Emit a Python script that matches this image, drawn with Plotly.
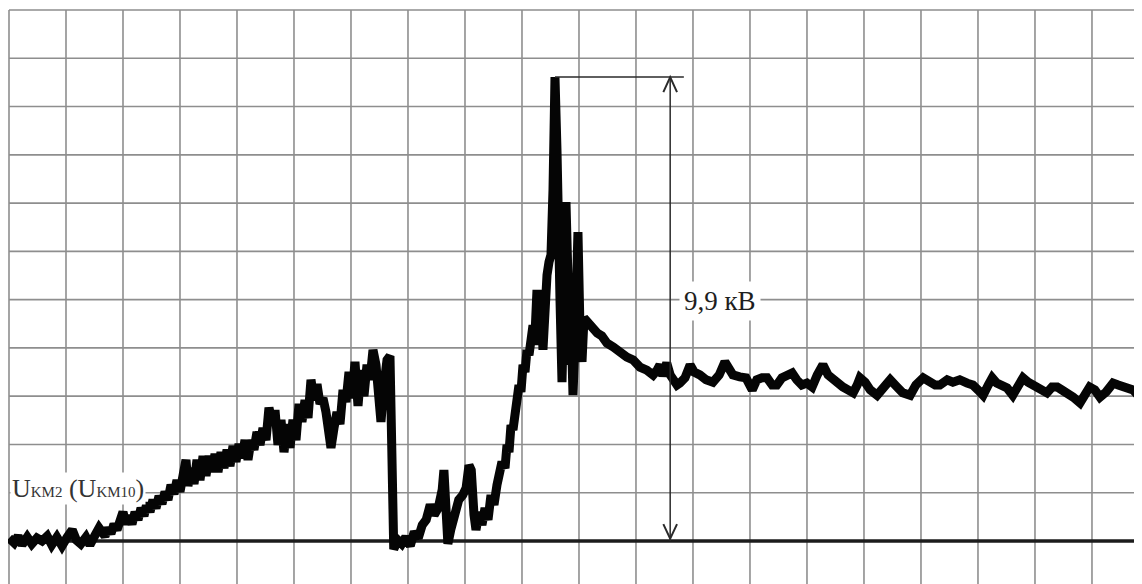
import plotly.graph_objects as go

# ---- data (time and voltage in grid divisions) ----
t = [0.00, 0.09, 0.16, 0.23, 0.32, 0.40, 0.49, 0.58, 0.67, 0.75, 0.84, 0.93, 1.02, 1.11, 1.18, 1.26,
     1.35, 1.42, 1.51, 1.58,
     1.684, 1.737, 1.789, 1.842, 1.895, 1.947, 2.000, 2.053, 2.105, 2.158, 2.211, 2.263, 2.316, 2.368,
     2.421, 2.474, 2.526, 2.579, 2.632, 2.684, 2.737, 2.789, 2.842, 2.895, 2.947, 3.000, 3.053, 3.105,
     3.140, 3.193, 3.246, 3.298, 3.351, 3.404, 3.456, 3.509, 3.561, 3.614, 3.667, 3.719, 3.772, 3.825,
     3.877, 3.930, 3.982, 4.035, 4.088, 4.140, 4.193, 4.246, 4.298, 4.351, 4.404, 4.456, 4.509, 4.561,
     4.614, 4.667, 4.719, 4.772, 4.825, 4.877, 4.930, 4.982, 5.035, 5.088, 5.140, 5.193, 5.246, 5.298,
     5.351, 5.404, 5.456, 5.509, 5.561, 5.614, 5.649, 5.702, 5.754, 5.807, 5.860, 5.912, 5.965, 6.018,
     6.070, 6.123, 6.175, 6.228, 6.281, 6.333, 6.386, 6.439, 6.491, 6.526, 6.579, 6.632, 6.684, 6.719,
     6.75,
     6.82, 6.89, 6.96, 7.04, 7.11, 7.18, 7.25, 7.32, 7.39, 7.46, 7.53, 7.60, 7.63, 7.67, 7.70, 7.75,
     7.82, 7.89, 7.96, 8.02, 8.07, 8.11,
     8.158, 8.193, 8.246, 8.298, 8.351, 8.404, 8.456, 8.509, 8.561, 8.614, 8.649, 8.702, 8.737, 8.772,
     8.807, 8.842, 8.877, 8.912, 8.947, 8.982, 9.018, 9.053, 9.088, 9.123, 9.158,
     9.193, 9.228, 9.263, 9.298, 9.333, 9.368, 9.404, 9.439, 9.474, 9.509, 9.544, 9.579, 9.614, 9.632,
     9.667, 9.702, 9.737, 9.772, 9.807, 9.825, 9.860, 9.895, 9.930, 9.965, 9.982, 10.018, 10.053,
     10.088, 10.140,
     10.23, 10.32, 10.40, 10.49, 10.60, 10.72, 10.84, 10.95, 11.07, 11.19, 11.30, 11.37,
     11.42, 11.47, 11.54, 11.60, 11.65, 11.72, 11.77, 11.86, 11.95, 12.02, 12.12, 12.23, 12.35, 12.46,
     12.56, 12.63, 12.70, 12.82, 12.93, 13.04, 13.12, 13.21, 13.30, 13.39, 13.47, 13.56, 13.65, 13.74,
     13.82, 13.91, 14.00, 14.09, 14.18, 14.28, 14.37, 14.46, 14.54, 14.63, 14.72, 14.81, 14.88, 14.93,
     15.02, 15.11, 15.23, 15.33, 15.46, 15.58, 15.68, 15.81, 15.91, 16.04, 16.16, 16.25, 16.33, 16.46,
     16.56, 16.68, 16.81, 16.91, 17.00, 17.09, 17.18, 17.25, 17.33, 17.42, 17.51, 17.61, 17.70, 17.79,
     17.88, 17.96, 18.09, 18.21, 18.30, 18.39, 18.47, 18.56, 18.67, 18.79, 18.88, 18.96, 19.05, 19.14,
     19.25, 19.37, 19.46, 19.54, 19.63, 19.72, 19.81, 19.88, 20.00]

u = [0.06, -0.04, 0.10, -0.08, 0.08, -0.06, 0.06, 0.00, 0.10, -0.08, 0.08, -0.10, 0.08, 0.23, 0.02, -0.06,
     0.08, -0.08, 0.12, 0.27,
     0.10, 0.27, 0.15, 0.35, 0.23, 0.44, 0.60, 0.35, 0.52, 0.35, 0.60, 0.44, 0.68, 0.52,
     0.79, 0.60, 0.85, 0.68, 0.93, 0.77, 1.02, 0.85, 1.16, 0.97, 1.26, 1.02, 1.39, 1.68,
     1.14, 1.51, 1.18, 1.68, 1.26, 1.76, 1.35, 1.76, 1.43, 1.80, 1.43, 1.84, 1.51, 1.89,
     1.55, 1.97, 1.64, 2.01, 1.72, 2.09, 1.68, 2.09, 1.89, 2.26, 1.99, 2.34, 2.09, 2.76,
     2.47, 2.71, 1.99, 2.51, 1.84, 2.42, 1.93, 2.51, 2.09, 2.84, 2.47, 2.92, 2.55, 3.34,
     2.92, 3.25, 2.84, 2.96, 2.67, 2.30, 1.93, 2.34, 2.67, 2.42, 3.13, 2.88, 3.50, 2.96,
     3.71, 2.80, 3.54, 3.00, 3.65, 3.34, 3.96, 3.65, 2.96, 2.47, 3.23, 3.75, 3.83, -0.08,
     -0.17,
     0.02, -0.06, 0.08, -0.10, 0.19, 0.06, 0.33, 0.44, 0.75, 0.54, 0.68, 1.06, 1.47, 0.44, -0.06, 0.23,
     0.64, 0.85, 0.95, 1.10, 1.57, 1.47,
     0.54, 0.23, 0.60, 0.33, 0.68, 0.44, 0.95, 0.75, 1.16, 1.37, 1.64, 1.51, 1.99, 1.84,
     2.40, 2.30, 2.76, 2.71, 3.23, 3.09, 3.65, 3.50, 3.96, 3.85, 4.16,
     4.47, 4.27, 5.20, 4.06, 5.20, 3.96, 4.99, 5.51, 5.78, 5.93, 7.27, 9.61, 8.10, 5.61,
     4.99, 3.29, 5.20, 7.02, 5.41, 3.65, 4.58, 3.02, 4.16, 6.03, 6.40, 4.37, 3.71,
     4.62, 4.54,
     4.47, 4.31, 4.25, 4.10, 4.02, 3.89, 3.81, 3.75, 3.60, 3.54, 3.44, 3.54,
     3.65, 3.42, 3.69, 3.44, 3.38, 3.23, 3.27, 3.38, 3.65, 3.50, 3.44, 3.34, 3.29, 3.44,
     3.71, 3.54, 3.44, 3.40, 3.38, 3.13, 3.34, 3.38, 3.38, 3.23, 3.23, 3.38, 3.44, 3.48,
     3.34, 3.23, 3.27, 3.19, 3.44, 3.65, 3.44, 3.34, 3.23, 3.19, 3.13, 3.07, 3.23, 3.38,
     3.29, 3.13, 3.02, 3.17, 3.34, 3.19, 3.07, 3.02, 3.23, 3.38, 3.29, 3.23, 3.23, 3.34,
     3.29, 3.34, 3.27, 3.23, 3.13, 3.02, 3.23, 3.38, 3.27, 3.23, 3.17, 3.02, 3.23, 3.38,
     3.29, 3.23, 3.17, 3.07, 3.19, 3.19, 3.13, 3.07, 2.98, 2.86, 3.02, 3.19, 3.13, 2.98,
     3.09, 3.27, 3.23, 3.19, 3.13, 3.13, 3.02, 2.98, 3.02]

x_grid = list(range(0, 21))   # vertical divisions
y_grid = list(range(1, 12))   # horizontal divisions
signal_label = 'U<span style="font-size:15px">KM2</span> (U<span style="font-size:15px">KM10</span>)'
amp_label = "9,9 кВ"

# page body has an 8px margin, so the ranges are offset to keep the grid in place
X_RANGE = [-0.0175, 20.018]
Y_RANGE = [-1.057, 11.042]
ARROW_T = 11.60
GRID = "#8e8e8e"
SERIF = "Liberation Serif, Times New Roman, serif"

peak_u = max(u)
peak_t = t[u.index(peak_u)]

fig = go.Figure()
fig.add_trace(go.Scatter(x=t, y=u, mode="lines",
                         line=dict(color="#050505", width=9),
                         hoverinfo="skip", showlegend=False))

shapes = []
for xv in x_grid:
    shapes.append(dict(type="line", xref="x", yref="y", x0=xv, x1=xv,
                       y0=Y_RANGE[0], y1=max(y_grid), layer="below",
                       line=dict(color=GRID, width=1.6)))
for yv in y_grid:
    shapes.append(dict(type="line", xref="x", yref="y", x0=0, x1=X_RANGE[1],
                       y0=yv, y1=yv, layer="below",
                       line=dict(color=GRID, width=1.6)))
# zero line
shapes.append(dict(type="line", xref="x", yref="y", x0=0, x1=X_RANGE[1], y0=0, y1=0,
                   layer="below", line=dict(color="#1c1c1c", width=3.5)))
# amplitude marker
shapes.append(dict(type="line", xref="x", yref="y", x0=peak_t, x1=ARROW_T + 0.24,
                   y0=peak_u, y1=peak_u, line=dict(color="#2a2a2a", width=1.5)))
shapes.append(dict(type="line", xref="x", yref="y", x0=ARROW_T, x1=ARROW_T,
                   y0=0, y1=peak_u, line=dict(color="#2a2a2a", width=1.5)))
shapes.append(dict(type="path", xref="x", yref="y",
                   path=f"M {ARROW_T-0.12},{peak_u-0.31} L {ARROW_T},{peak_u} L {ARROW_T+0.12},{peak_u-0.31}",
                   line=dict(color="#2a2a2a", width=2)))
shapes.append(dict(type="path", xref="x", yref="y",
                   path=f"M {ARROW_T-0.12},{0.35} L {ARROW_T},{0.05} L {ARROW_T+0.12},{0.35}",
                   line=dict(color="#2a2a2a", width=2)))

annotations = [
    dict(x=12.47, y=4.97, xref="x", yref="y", text=amp_label, showarrow=False,
         xanchor="center", yanchor="middle", bgcolor="white", borderpad=4,
         font=dict(family=SERIF, size=27, color="#1e1e1e")),
    dict(x=0.02, y=1.08, xref="x", yref="y", text=signal_label, showarrow=False,
         xanchor="left", yanchor="middle", bgcolor="white", borderpad=1,
         font=dict(family=SERIF, size=26, color="#333333")),
]

fig.update_layout(
    width=1142, height=584,
    margin=dict(l=0, r=0, t=0, b=0),
    paper_bgcolor="white", plot_bgcolor="white",
    xaxis=dict(range=X_RANGE, visible=False, showgrid=False, zeroline=False, fixedrange=True),
    yaxis=dict(range=Y_RANGE, visible=False, showgrid=False, zeroline=False, fixedrange=True),
    shapes=shapes, annotations=annotations, showlegend=False,
)

fig.write_html("out.html")
